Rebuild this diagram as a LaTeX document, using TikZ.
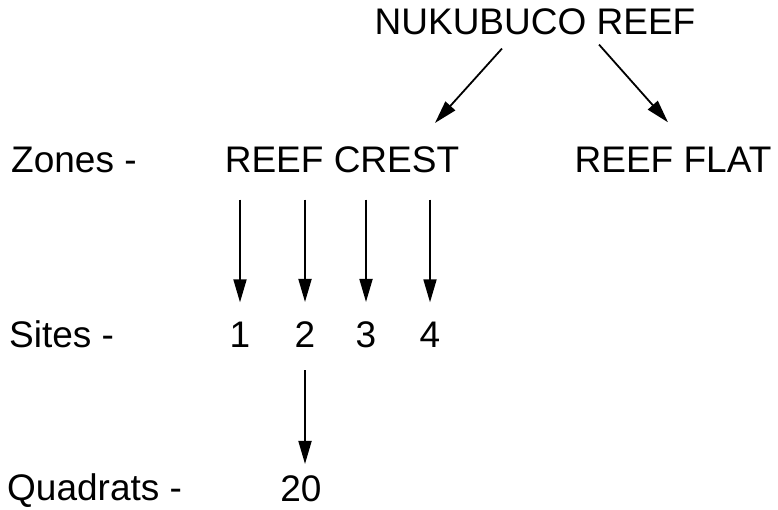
\documentclass[tikz,border=0pt]{standalone}
\usepackage{fontspec}
\setmainfont{Liberation Sans}
\usetikzlibrary{arrows.meta}

\begin{document}
\begin{tikzpicture}[x=1pt, y=-1pt,
        every node/.style={inner sep=0pt, anchor=base, font=\fontsize{37}{42}\selectfont},
        arr/.style={line width=1.8pt, -{Triangle[length=23pt, width=13pt]}}]
        \useasboundingbox (0, 0) rectangle (778, 510);
        \node at (535, 35) (reef) {NUKUBUCO REEF};
        \node at (342, 173) (crest) {REEF CREST};
        \node at (673, 173) (flat) {REEF FLAT};
        \node[anchor=base west] at (11, 173) (zones) {Zones -};
        \node[anchor=base west] at (9, 347) (sites) {Sites -};
        \node[anchor=base west] at (7, 500) (quadrats) {Quadrats -};
        \node at (240, 347) (s1) {1};
        \node at (305, 347) (s2) {2};
        \node at (366, 347) (s3) {3};
        \node at (430, 347) (s4) {4};
        \node at (301, 501) (q) {20};
        \draw[arr] ([shift={(-33pt, -13pt)}]reef.south) -- ([shift={(93pt, 24pt)}]crest.north);
        \draw[arr] ([shift={(64pt, -9pt)}]reef.south) -- ([shift={(-5pt, 25pt)}]flat.north);
        \foreach \s in {s1, s2, s3, s4}
            \draw[arr, shorten <=26pt, shorten >=19pt] (\s |- crest.south) -- (\s);
        \draw[arr, shorten <=23pt, shorten >=11pt] (s2) -- (s2 |- q.north);
    \end{tikzpicture}
\end{document}
